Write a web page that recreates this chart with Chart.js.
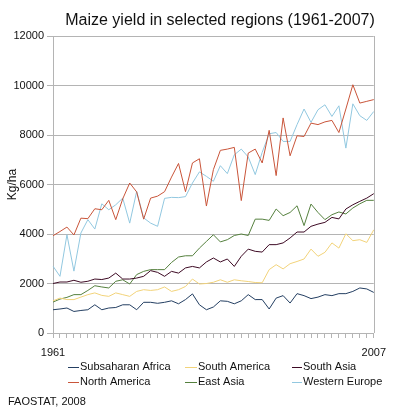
<!DOCTYPE html>
<html>
<head>
<meta charset="utf-8">
<title>Maize yield in selected regions</title>
<script src="https://cdn.jsdelivr.net/npm/chart.js@4.4.1/dist/chart.umd.min.js"></script>
<style>
  html, body { margin: 0; padding: 0; background: #fff; }
  #wrap { width: 394px; height: 410px; }
</style>
</head>
<body>
<div id="wrap"><canvas id="maizeChart" width="394" height="410"></canvas></div>
<script>
// years on the x axis (1961-2007)
const years = [1961, 1962, 1963, 1964, 1965, 1966, 1967, 1968, 1969, 1970,
               1971, 1972, 1973, 1974, 1975, 1976, 1977, 1978, 1979, 1980,
               1981, 1982, 1983, 1984, 1985, 1986, 1987, 1988, 1989, 1990,
               1991, 1992, 1993, 1994, 1995, 1996, 1997, 1998, 1999, 2000,
               2001, 2002, 2003, 2004, 2005, 2006, 2007];

const yTicks = [0, 2000, 4000, 6000, 8000, 10000, 12000];

// yield in kg/ha
const subsaharanAfrica = [940, 970, 1010, 870, 910, 940, 1140, 940, 1010, 1030,
  1140, 1140, 940, 1240, 1240, 1200, 1240, 1300, 1180, 1350,
  1580, 1140, 940, 1050, 1300, 1280, 1180, 1300, 1550, 1350,
  1350, 970, 1410, 1510, 1210, 1590, 1510, 1390, 1450, 1550,
  1510, 1590, 1590, 1680, 1820, 1780, 1640];

const southAmerica = [1300, 1410, 1350, 1350, 1450, 1550, 1620, 1520, 1480, 1620,
  1550, 1480, 1680, 1750, 1720, 1750, 1860, 1680, 1750, 1880,
  2180, 1980, 2000, 2050, 2150, 2050, 2150, 2110, 2080, 2040,
  2030, 2560, 2760, 2590, 2800, 2890, 2990, 3390, 3100, 3260,
  3640, 3430, 4010, 3730, 3770, 3660, 4170];

const southAsia = [2000, 2060, 2060, 2130, 2050, 2090, 2180, 2160, 2220, 2420,
  2180, 2180, 2220, 2290, 2520, 2450, 2290, 2490, 2420, 2630,
  2690, 2630, 2870, 3030, 2870, 2990, 2690, 3100, 3390, 3300,
  3270, 3570, 3570, 3640, 3840, 4080, 4080, 4310, 4400, 4470,
  4670, 4610, 5010, 5180, 5320, 5450, 5630];

const northAmerica = [3930, 4100, 4280, 3960, 4640, 4620, 5020, 4980, 5360, 4580,
  5420, 6060, 5700, 4600, 5450, 5530, 5710, 6300, 6850, 5710,
  6870, 7040, 5130, 6600, 7380, 7430, 7500, 5350, 7270, 7430,
  6870, 8190, 6360, 8690, 7160, 7970, 7940, 8480, 8420, 8530,
  8590, 8100, 9050, 10030, 9290, 9360, 9430];

const eastAsia = [1250, 1370, 1440, 1550, 1550, 1720, 1910, 1860, 1820, 2090,
  2150, 1980, 2360, 2490, 2560, 2560, 2560, 2850, 3070, 3120,
  3120, 3430, 3700, 3970, 3680, 3770, 3940, 4000, 3940, 4600,
  4600, 4550, 5010, 4740, 4870, 5140, 4340, 5210, 4870, 4580,
  4780, 4890, 4810, 5050, 5220, 5360, 5360];

const westernEurope = [2700, 2290, 3970, 2500, 4040, 4580, 4200, 5220, 4980, 5180,
  5450, 4440, 5720, 4650, 4440, 4310, 5440, 5480, 5470, 5510,
  6060, 6510, 6330, 6130, 6760, 6440, 7200, 7430, 7110, 6400,
  7300, 8050, 8100, 7740, 7740, 8420, 9050, 8510, 9020, 9220,
  8750, 9180, 7470, 9260, 8780, 8590, 8950];

const FONT = '"Liberation Sans", Arial, sans-serif';
const GRID = '#b4b4b4';

function series(label, data, color) {
    return {
        label: label,
        data: data,
        borderColor: color,
        backgroundColor: color,
        borderWidth: 1,
        pointRadius: 0,
        tension: 0,
        fill: false
    };
}

// title, legend, right frame line and source note drawn on the canvas
const extras = {
    id: 'extras',
    afterDraw(chart) {
        const ctx = chart.ctx;
        const a = chart.chartArea;
        ctx.save();

        // right edge of the plot
        ctx.strokeStyle = GRID;
        ctx.lineWidth = 1;
        ctx.beginPath();
        ctx.moveTo(Math.round(a.right) + 0.5, a.top);
        ctx.lineTo(Math.round(a.right) + 0.5, a.bottom);
        ctx.stroke();

        // title
        ctx.fillStyle = '#111';
        ctx.font = '16px ' + FONT;
        ctx.textAlign = 'center';
        ctx.textBaseline = 'alphabetic';
        ctx.fillText('Maize yield in selected regions (1961-2007)', 220, 25);

        // legend: 3 columns x 2 rows
        const colLine = [[68, 79], [185, 197], [292, 302]];
        const rowY = [367, 382];
        ctx.font = '11px ' + FONT;
        ctx.textAlign = 'left';
        ctx.textBaseline = 'middle';
        chart.data.datasets.forEach((ds, i) => {
            const c = colLine[i % 3];
            const y = rowY[Math.floor(i / 3)];
            ctx.strokeStyle = ds.borderColor;
            ctx.beginPath();
            ctx.moveTo(c[0], y + 0.5);
            ctx.lineTo(c[1], y + 0.5);
            ctx.stroke();
            ctx.fillStyle = '#111';
            ctx.fillText(ds.label, c[1] + 1, y);
        });

        // source
        ctx.fillText('FAOSTAT, 2008', 8, 402);
        ctx.restore();
    }
};

const ctx = document.getElementById('maizeChart').getContext('2d');
const maizeChart = new Chart(ctx, {
    type: 'line',
    data: {
        labels: years,
        datasets: [
            series('Subsaharan Africa', subsaharanAfrica, '#243f62'),
            series('South America', southAmerica, '#f2d37a'),
            series('South Asia', southAsia, '#3d0a24'),
            series('North America', northAmerica, '#c9553a'),
            series('East Asia', eastAsia, '#55803e'),
            series('Western Europe', westernEurope, '#92c8e0')
        ]
    },
    options: {
        responsive: false,
        animation: false,
        devicePixelRatio: 1,
        layout: {
            padding: { top: 36, right: 8, bottom: 0, left: 0 }
        },
        plugins: {
            legend: { display: false },
            title: { display: false },
            tooltip: { enabled: false }
        },
        scales: {
            x: {
                type: 'category',
                grid: {
                    drawOnChartArea: false,
                    tickLength: 5,
                    color: GRID
                },
                border: { display: true, color: GRID },
                ticks: {
                    autoSkip: false,
                    maxRotation: 0,
                    padding: 8,
                    color: '#111',
                    font: { family: FONT, size: 11 },
                    callback: function(value, index) {
                        // only first and last year are labelled
                        if (index === 0 || index === years.length - 1) {
                            return this.getLabelForValue(value);
                        }
                        return '';
                    }
                },
                afterFit: function(scale) { scale.height = 77; }
            },
            y: {
                min: yTicks[0],
                max: yTicks[yTicks.length - 1],
                afterBuildTicks: function(scale) {
                    scale.ticks = yTicks.map(v => ({ value: v }));
                },
                grid: { color: GRID, tickLength: 6 },
                border: { display: true, color: GRID },
                ticks: {
                    padding: 3,
                    color: '#111',
                    font: { family: FONT, size: 11 },
                    callback: v => String(v)
                },
                title: {
                    display: true,
                    text: 'Kg/ha',
                    color: '#111',
                    font: { family: FONT, size: 12 },
                    padding: { top: 5, bottom: 0 }
                },
                afterFit: function(scale) { scale.width = 53; }
            }
        }
    },
    plugins: [extras]
});
</script>
</body>
</html>
